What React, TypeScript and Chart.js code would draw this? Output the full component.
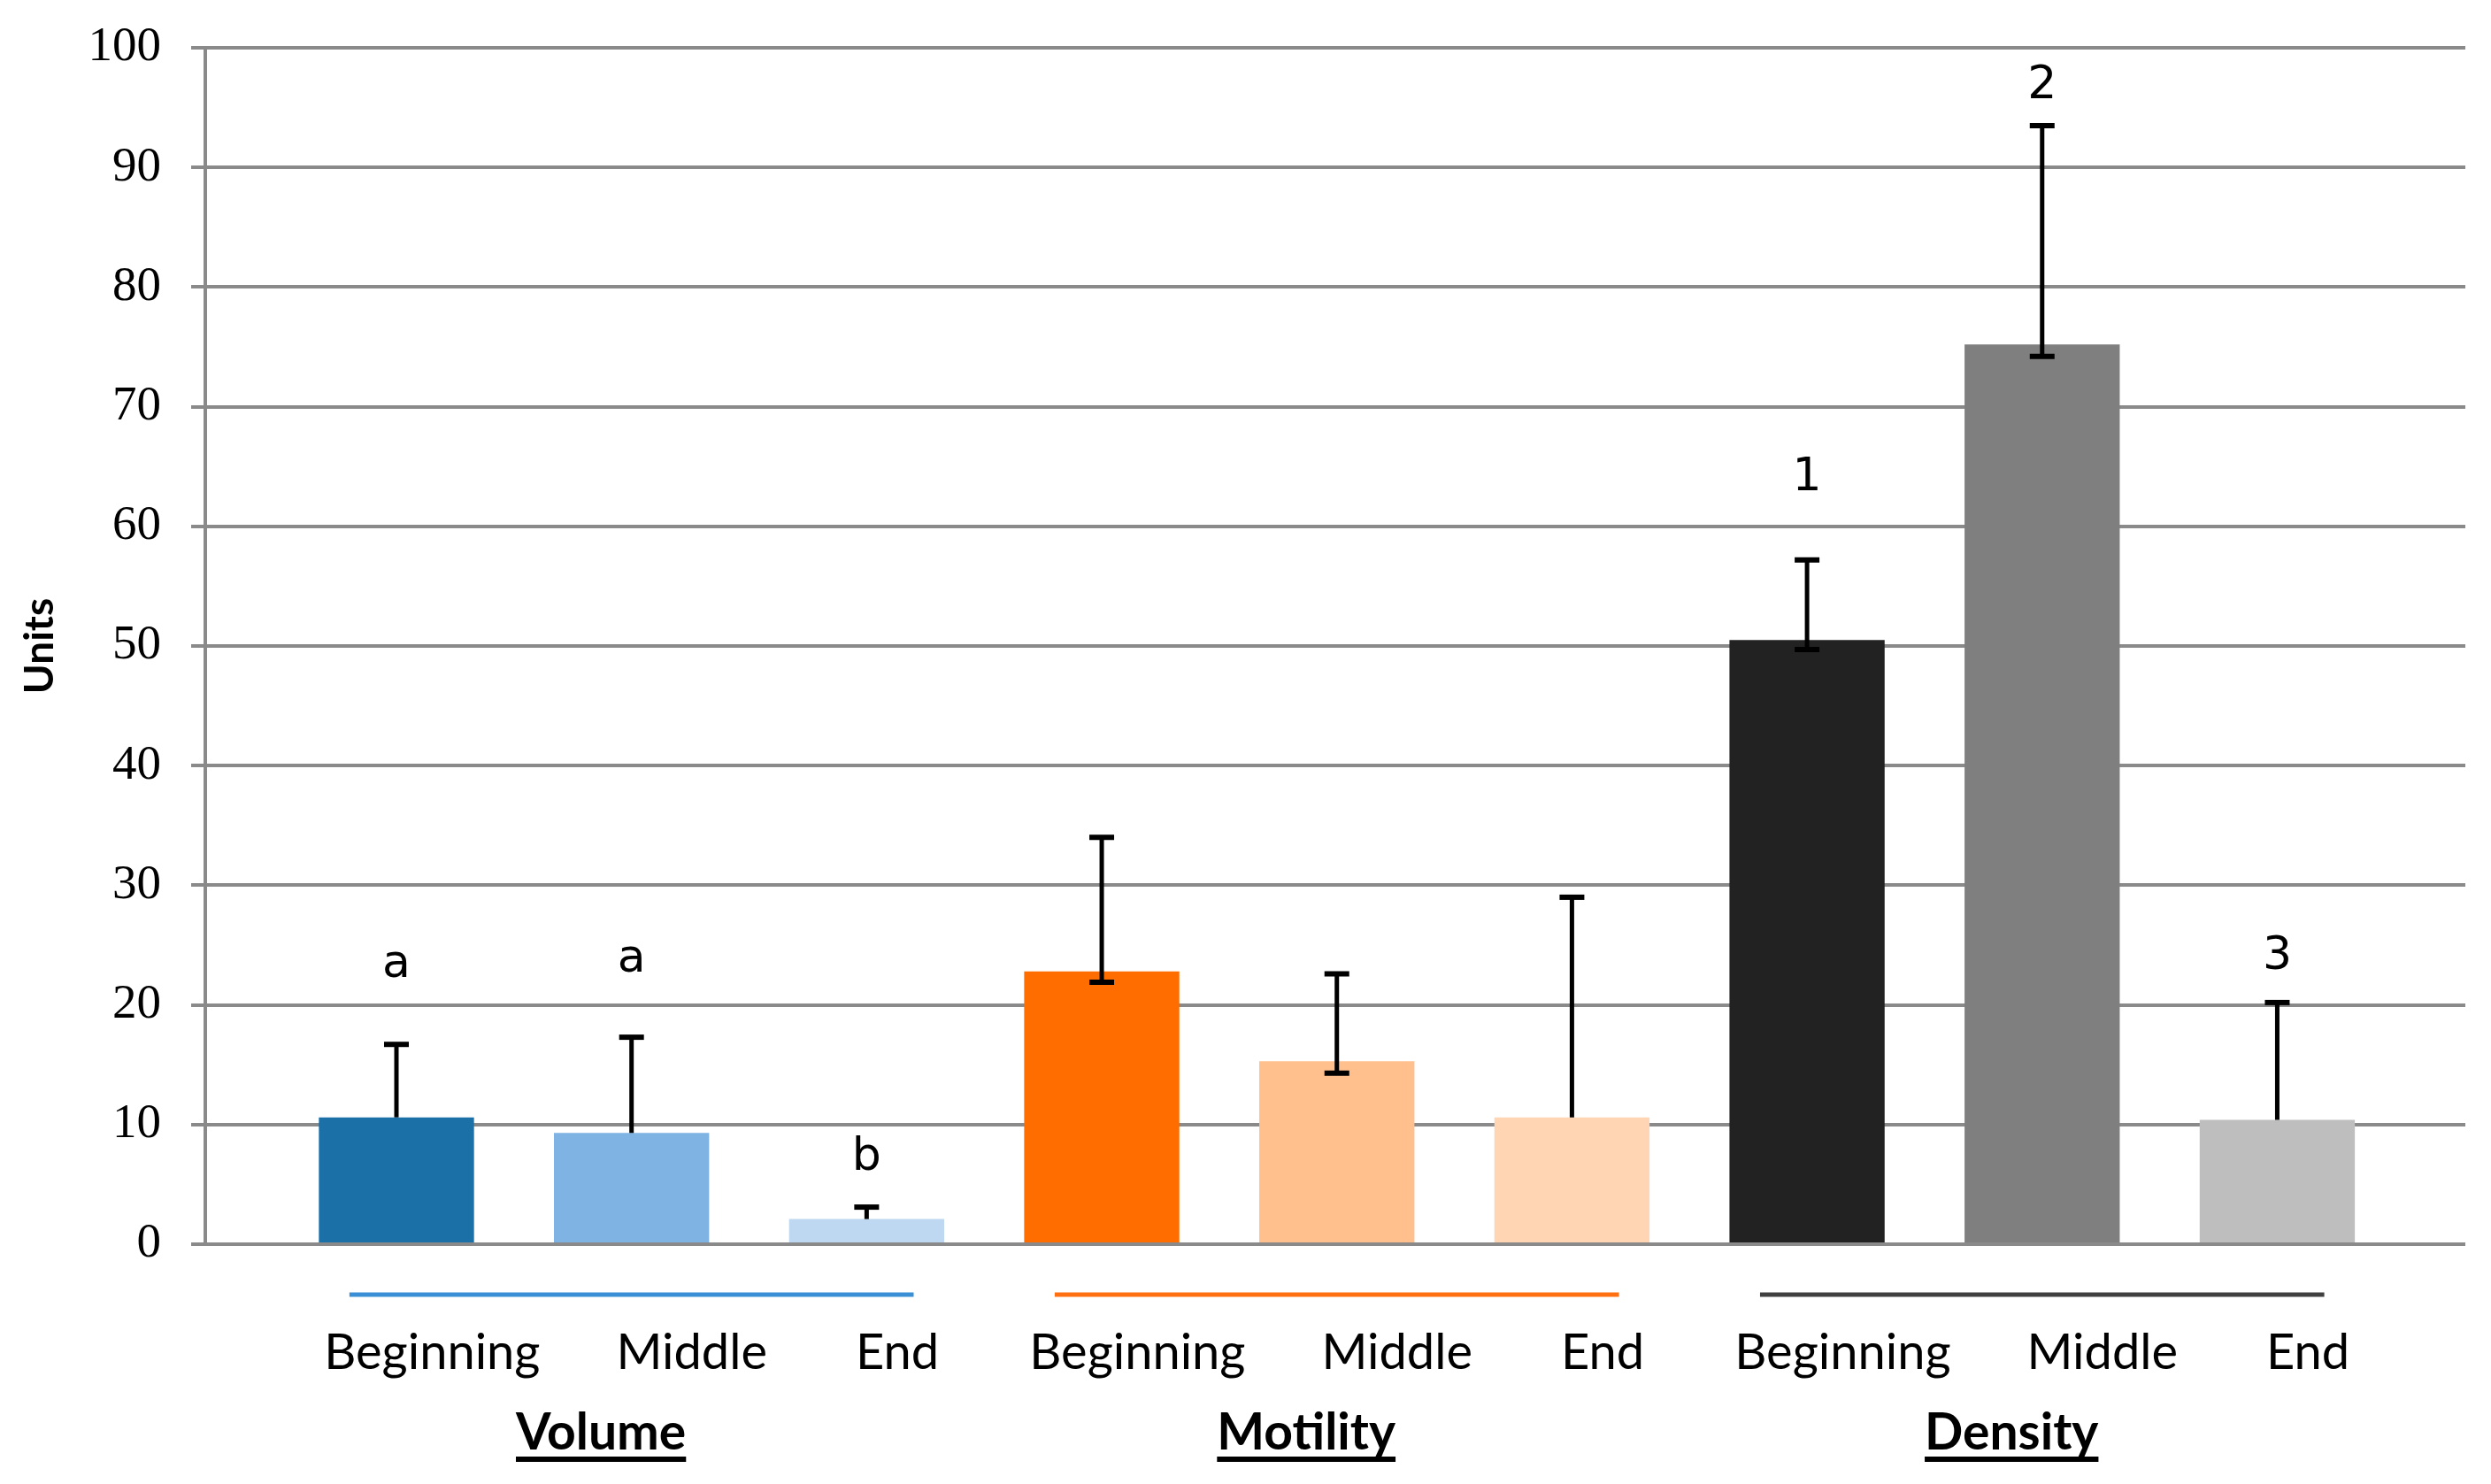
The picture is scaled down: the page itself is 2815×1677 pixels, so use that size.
import React, { useEffect, useRef } from "react";
import { Chart, registerables } from "chart.js";

Chart.register(...registerables);

// ---- data ----
const categories = ["Beginning", "Middle", "End", "Beginning", "Middle", "End", "Beginning", "Middle", "End"];
const groups = ["Volume", "Motility", "Density"];
const means = [10.6, 9.3, 2.1, 22.8, 15.3, 10.6, 50.5, 75.2, 10.4];
const errorUpper = [16.7, 17.3, 3.1, 34.0, 22.6, 29.0, 57.2, 93.5, 20.2];
const errorLower: (number | null)[] = [null, null, null, 21.9, 14.3, null, 49.7, 74.2, null];
const letters = ["a", "a", "b", "", "", "", "1", "2", "3"];
const letterLevels: (number | null)[] = [23.3, 23.8, 7.2, null, null, null, 64, 96.8, 24];
const yMin = 0;
const yMax = 100;
const yStep = 10;
const axisTitle = "Units";

// ---- styles ----
const barColors = ["#1C70A8", "#7EB3E3", "#BDD8F0", "#FF6D00", "#FFC08E", "#FFD5B4", "#222222", "#7F7F7F", "#BEBEBE"];
const groupColors = ["#3B8FD4", "#FF7012", "#404040"];
const gridColor = "#8A8A8A";

const W = 2815;
const H = 1677;

export default function App() {
  const ref = useRef<HTMLCanvasElement | null>(null);

  useEffect(() => {
    document.body.style.margin = "0";
    const canvas = ref.current;
    if (!canvas) return;

    const overlay = {
      id: "overlay",
      afterDatasetsDraw(chart: any) {
        const ctx = chart.ctx;
        const xs = chart.scales.x;
        const ys = chart.scales.y;
        ctx.save();
        ctx.strokeStyle = "#000";
        const cap = 14;
        means.forEach((m, i) => {
          const x = xs.getPixelForValue(i + 1);
          const yTop = ys.getPixelForValue(errorUpper[i]);
          const low = errorLower[i];
          const yLow = ys.getPixelForValue(low == null ? m : low);
          ctx.lineWidth = 5;
          ctx.beginPath();
          ctx.moveTo(x, yTop);
          ctx.lineTo(x, yLow);
          ctx.stroke();
          ctx.lineWidth = 6;
          ctx.beginPath();
          ctx.moveTo(x - cap, yTop);
          ctx.lineTo(x + cap, yTop);
          if (low != null) {
            ctx.moveTo(x - cap, yLow);
            ctx.lineTo(x + cap, yLow);
          }
          ctx.stroke();
        });
        ctx.fillStyle = "#000";
        ctx.font = "52px 'DejaVu Sans'";
        ctx.textAlign = "center";
        ctx.textBaseline = "middle";
        letters.forEach((t, i) => {
          const lv = letterLevels[i];
          if (!t || lv == null) return;
          ctx.fillText(t, xs.getPixelForValue(i + 1), ys.getPixelForValue(lv));
        });
        ctx.restore();
      },
      afterDraw(chart: any) {
        const ctx = chart.ctx;
        const xs = chart.scales.x;
        const bottom = chart.chartArea.bottom;
        ctx.save();
        ctx.fillStyle = "#000";
        ctx.textBaseline = "alphabetic";
        groups.forEach((g, gi) => {
          const mid = gi * 3 + 2;
          const center = xs.getPixelForValue(mid);
          // sub-category labels laid out as one spaced line under the group
          ctx.font = "56px Lato";
          ctx.textAlign = "left";
          const words = categories.slice(gi * 3, gi * 3 + 3);
          const gaps = [86, 100];
          const widths = words.map((w) => ctx.measureText(w).width);
          const total = widths[0] + widths[1] + widths[2] + gaps[0] + gaps[1];
          let x = center - total / 2;
          words.forEach((w, k) => {
            ctx.fillText(w, x, bottom + 141);
            x += widths[k] + (gaps[k] || 0);
          });
          // group line
          ctx.strokeStyle = groupColors[gi];
          ctx.lineWidth = 5;
          ctx.beginPath();
          ctx.moveTo(xs.getPixelForValue(mid - 1.2), bottom + 57);
          ctx.lineTo(xs.getPixelForValue(mid + 1.2), bottom + 57);
          ctx.stroke();
          // group name, bold underlined
          ctx.textAlign = "center";
          ctx.font = "bold 57px Lato";
          const cx = xs.getPixelForValue(mid - 0.13);
          const by = bottom + 232;
          ctx.fillText(g, cx, by);
          const w = ctx.measureText(g).width;
          ctx.strokeStyle = "#000";
          ctx.lineWidth = 6;
          ctx.beginPath();
          ctx.moveTo(cx - w / 2, by + 11);
          ctx.lineTo(cx + w / 2, by + 11);
          ctx.stroke();
        });
        ctx.restore();
      },
    };

    const chart = new Chart(canvas, {
      type: "bar",
      data: {
        datasets: [
          {
            data: means.map((v, i) => ({ x: i + 1, y: v })),
            backgroundColor: barColors,
            borderWidth: 0,
            categoryPercentage: 1,
            barPercentage: 0.66,
          },
        ],
      },
      options: {
        responsive: false,
        animation: false,
        devicePixelRatio: 1,
        layout: { padding: { left: 0, right: 29, top: 54, bottom: 0 } },
        plugins: { legend: { display: false }, tooltip: { enabled: false } },
        scales: {
          x: {
            type: "linear",
            offset: false,
            min: 0.187,
            max: 9.8,
            grid: { display: false },
            border: { display: false },
            ticks: { display: false },
            afterBuildTicks: (s: any) => {
              s.ticks = means.map((_, i) => ({ value: i + 1 }));
            },
            afterFit: (s: any) => {
              s.height = 271;
              s.paddingLeft = 0;
              s.paddingRight = 0;
            },
          },
          y: {
            min: yMin,
            max: yMax,
            ticks: {
              stepSize: yStep,
              color: "#000",
              padding: 34,
              font: { family: "'Liberation Serif'", size: 55 },
            },
            grid: { color: gridColor, lineWidth: 4, tickLength: 16, drawTicks: true },
            border: { color: gridColor, width: 4 },
            title: {
              display: true,
              text: axisTitle,
              color: "#000",
              font: { family: "Lato", size: 46, weight: "bold" },
              padding: { top: 18, bottom: 0 },
            },
            afterFit: (s: any) => {
              s.width = 232;
              s.paddingTop = 0;
              s.paddingBottom = 0;
            },
          },
        },
      },
      plugins: [overlay],
    });
    return () => chart.destroy();
  }, []);

  return (
    <div style={{ width: W, height: H, background: "#fff" }}>
      <canvas ref={ref} width={W} height={H} style={{ display: "block" }} />
    </div>
  );
}
